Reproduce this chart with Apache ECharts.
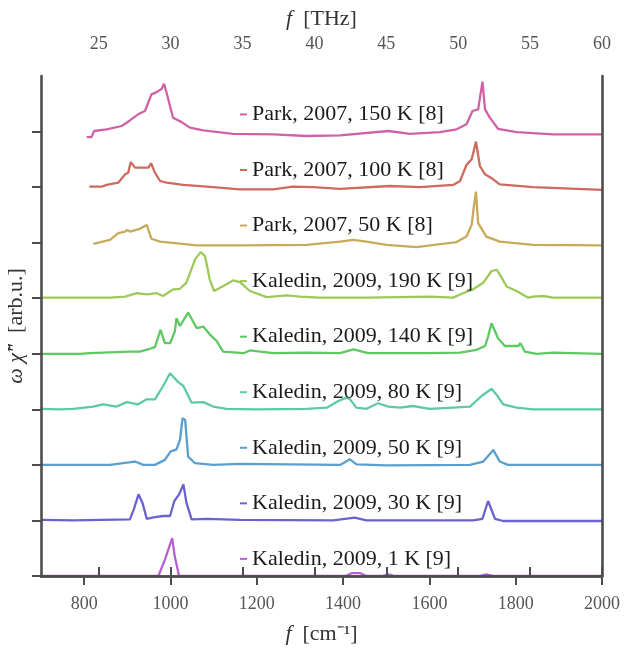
<!DOCTYPE html>
<html>
<head>
<meta charset="utf-8">
<script src="https://cdn.jsdelivr.net/npm/echarts@6/dist/echarts.min.js"></script>
<style>
  html, body { margin: 0; padding: 0; background: #fff; }
  #chart { width: 626px; height: 649px; }
</style>
</head>
<body>
<div id="chart"></div>
<script>
// spectra: [wavenumber cm^-1, height above own baseline]
var park150 = [[806,-0.10],[817,-0.10],[823,0.01],[852,0.04],[887,0.10],[906,0.20],[925,0.31],[941,0.37],[956,0.67],[968,0.71],[980,0.77],[985,0.86],[990,0.73],[1006,0.25],[1026,0.17],[1045,0.07],[1076,0.02],[1145,-0.04],[1238,-0.05],[1315,-0.08],[1393,-0.07],[1505,0.01],[1555,-0.04],[1624,-0.01],[1663,0.04],[1686,0.13],[1700,0.37],[1713,0.40],[1723,0.90],[1729,0.40],[1740,0.25],[1759,0.05],[1802,-0.01],[1887,-0.05],[2000,-0.05]]
var park100 = [[812,0.01],[841,0.01],[852,0.04],[879,0.08],[895,0.23],[902,0.26],[908,0.45],[918,0.35],[949,0.35],[955,0.43],[964,0.26],[976,0.11],[991,0.08],[1030,0.04],[1084,0.01],[1161,-0.04],[1238,-0.04],[1284,0.01],[1331,0],[1393,-0.03],[1508,0.02],[1578,0],[1655,0.04],[1671,0.11],[1686,0.40],[1698,0.50],[1708,0.82],[1717,0.38],[1729,0.23],[1748,0.14],[1763,0.05],[1840,0],[2000,-0.05]]
var park50 = [[821,-0.02],[860,0.05],[879,0.17],[895,0.20],[900,0.23],[906,0.20],[929,0.25],[945,0.32],[956,0.07],[976,0.02],[1061,-0.05],[1161,-0.05],[1315,-0.04],[1393,0.02],[1423,0.05],[1454,0.02],[1501,-0.04],[1570,-0.08],[1663,0.01],[1686,0.11],[1698,0.32],[1703,0.65],[1708,0.92],[1713,0.35],[1732,0.11],[1763,0.02],[1840,-0.04],[2000,-0.05]]
var kal190 = [[700,0.01],[860,0.01],[895,0.03],[922,0.09],[945,0.07],[968,0.09],[983,0.04],[1006,0.16],[1022,0.17],[1037,0.28],[1057,0.70],[1070,0.83],[1080,0.76],[1091,0.34],[1101,0.13],[1115,0.19],[1130,0.25],[1145,0.32],[1161,0.29],[1184,0.13],[1223,0.02],[1269,0.05],[1300,0.03],[1346,0.01],[1454,0.01],[1601,0.03],[1655,0.01],[1678,0.09],[1701,0.16],[1725,0.28],[1744,0.49],[1756,0.51],[1763,0.43],[1779,0.21],[1802,0.13],[1829,0.01],[1840,0.03],[1864,0.04],[1887,0.01],[2000,0.01]]
var kal140 = [[700,0],[790,0],[813,0.01],[844,0.02],[906,0.04],[929,0.04],[952,0.09],[964,0.12],[977,0.43],[987,0.19],[999,0.19],[1010,0.40],[1014,0.64],[1022,0.50],[1041,0.74],[1061,0.46],[1076,0.49],[1091,0.35],[1107,0.23],[1122,0.04],[1169,0.01],[1184,0.06],[1238,0.01],[1315,0.02],[1393,0.01],[1424,0.08],[1458,0.01],[1593,0.01],[1671,0.02],[1709,0.07],[1729,0.14],[1736,0.31],[1744,0.55],[1759,0.28],[1775,0.14],[1806,0.14],[1811,0.19],[1821,0.04],[1848,0],[1887,0.02],[2000,0]]
var kal80 = [[700,0.01],[744,0],[775,0.01],[821,0.05],[844,0.09],[875,0.05],[899,0.13],[925,0.09],[945,0.18],[964,0.18],[983,0.42],[999,0.65],[1018,0.49],[1030,0.42],[1049,0.12],[1076,0.13],[1099,0.05],[1130,0.01],[1200,0],[1315,0.01],[1362,0.03],[1389,0.15],[1408,0.21],[1416,0.18],[1431,0.03],[1454,0.01],[1481,0.11],[1505,0.05],[1532,0.03],[1562,0.06],[1601,0.01],[1694,0.05],[1721,0.24],[1744,0.37],[1756,0.26],[1771,0.09],[1802,0.03],[1840,0],[2000,0]]
var kal50 = [[700,0],[860,0],[899,0.04],[918,0.06],[937,0],[964,0],[987,0.09],[1000,0.24],[1014,0.28],[1022,0.45],[1028,0.84],[1034,0.81],[1041,0.15],[1057,0.03],[1099,0],[1161,0.02],[1393,0],[1416,0.10],[1431,0.01],[1501,-0.01],[1694,0],[1725,0.06],[1748,0.27],[1763,0.06],[1782,0],[2000,0]]
var kal30 = [[700,0.01],[775,0],[906,0.02],[915,0.20],[926,0.47],[935,0.32],[945,0.03],[964,0.06],[983,0.08],[999,0.08],[1009,0.35],[1020,0.47],[1030,0.65],[1037,0.32],[1049,0.02],[1084,0.03],[1161,0.01],[1377,0],[1427,0.05],[1454,0],[1701,0],[1723,0.03],[1736,0.35],[1752,0.03],[1771,-0.01],[2000,-0.01]]
var kal1 = [[700,0],[972,0],[987,0.29],[1004,0.68],[1010,0.35],[1020,0],[1405,0],[1420,0.05],[1440,0.05],[1455,0],[1490,0],[1505,0.03],[1520,0],[1715,0],[1732,0.03],[1750,0],[2000,0]]

var names = ['Kaledin, 2009, 1 K [9]', 'Kaledin, 2009, 30 K [9]', 'Kaledin, 2009, 50 K [9]', 'Kaledin, 2009, 80 K [9]', 'Kaledin, 2009, 140 K [9]', 'Kaledin, 2009, 190 K [9]', 'Park, 2007, 50 K [8]', 'Park, 2007, 100 K [8]', 'Park, 2007, 150 K [8]']
var spectra = [kal1, kal30, kal50, kal80, kal140, kal190, park50, park100, park150]
var colors = ['#b562d0', '#6a62d1', '#5a9fcd', '#5ccaa6', '#5ec962', '#9cc95a', '#c9aa5b', '#cc6b5e', '#cf62a6']
var bottomTicks = [800, 1000, 1200, 1400, 1600, 1800, 2000]
var topTicks = [25, 30, 35, 40, 45, 50, 55, 60]
var offsetTicks = [0, 1, 2, 3, 4, 5, 6, 7, 8]

var serif = 'Liberation Serif'
var axisCol = '#4d4d4d'
var cmPerTHz = 33.35641

var series = []
var legends = []
for (var i = 0; i < spectra.length; i++) {
  series.push({
    name: names[i],
    type: 'line',
    showSymbol: false,
    color: colors[i],
    lineStyle: { width: 2.3 },
    data: spectra[i].map(function (p) { return [p[0], p[1] + i] }),
    z: 2
  })
  // label sits ~0.38 units above each baseline
  legends.push({
    data: [names[i]],
    left: 235,
    top: 76 + (9 - i - 0.38) * 500 / 9 - 12,
    icon: 'rect',
    itemWidth: 7,
    itemHeight: 2,
    selectedMode: false,
    textStyle: { fontFamily: serif, fontSize: 22, color: '#1a1a1a' }
  })
}

var nameStyle = {
  fontFamily: serif, fontSize: 22, color: '#333',
  rich: { i: { fontFamily: serif, fontStyle: 'italic', fontSize: 22, color: '#333' } }
}
var plain = function (v) { return String(v) }

var chart = echarts.init(document.getElementById('chart'))
chart.setOption({
  animation: false,
  backgroundColor: '#fff',
  grid: { left: 41, right: 24, top: 76, bottom: 73, outerBoundsMode: 'none' },
  legend: legends,
  xAxis: [
    {
      type: 'value', position: 'bottom', min: 700, max: 2000, z: 10,
      name: '{i|f}  [cm⁻¹]', nameLocation: 'middle', nameGap: 47,
      nameTextStyle: nameStyle,
      splitLine: { show: false },
      axisLine: { lineStyle: { color: axisCol, width: 2.6 } },
      axisTick: { customValues: bottomTicks, length: 9, lineStyle: { color: axisCol, width: 2 } },
      axisLabel: { customValues: bottomTicks, formatter: plain, fontFamily: serif, fontSize: 18, color: '#555', margin: 19 }
    },
    {
      type: 'value', position: 'top', min: 700 / cmPerTHz, max: 60, z: 10,
      name: '{i|f}  [THz]', nameLocation: 'middle', nameGap: 44,
      nameTextStyle: nameStyle,
      splitLine: { show: false },
      axisLine: { lineStyle: { color: axisCol, width: 2.6 } },
      axisTick: { customValues: topTicks, length: 9, lineStyle: { color: axisCol, width: 2 } },
      axisLabel: { customValues: topTicks, formatter: plain, fontFamily: serif, fontSize: 18, color: '#555', margin: 23 }
    }
  ],
  yAxis: [
    {
      type: 'value', position: 'left', min: 0, max: 9, z: 10,
      name: '{i|ω χ̃″}  [arb.u.]', nameLocation: 'middle', nameGap: 14, nameRotate: 90,
      nameTextStyle: nameStyle,
      splitLine: { show: false },
      axisLine: { show: true, lineStyle: { color: axisCol, width: 2.6 } },
      axisTick: { customValues: offsetTicks, length: 9, lineStyle: { color: axisCol, width: 2 } },
      axisLabel: { show: false }
    },
    {
      type: 'value', position: 'right', min: 0, max: 9, z: 10,
      splitLine: { show: false },
      axisLine: { show: true, lineStyle: { color: axisCol, width: 2.6 } },
      axisTick: { show: false },
      axisLabel: { show: false }
    }
  ],
  series: series
})
</script>
</body>
</html>
